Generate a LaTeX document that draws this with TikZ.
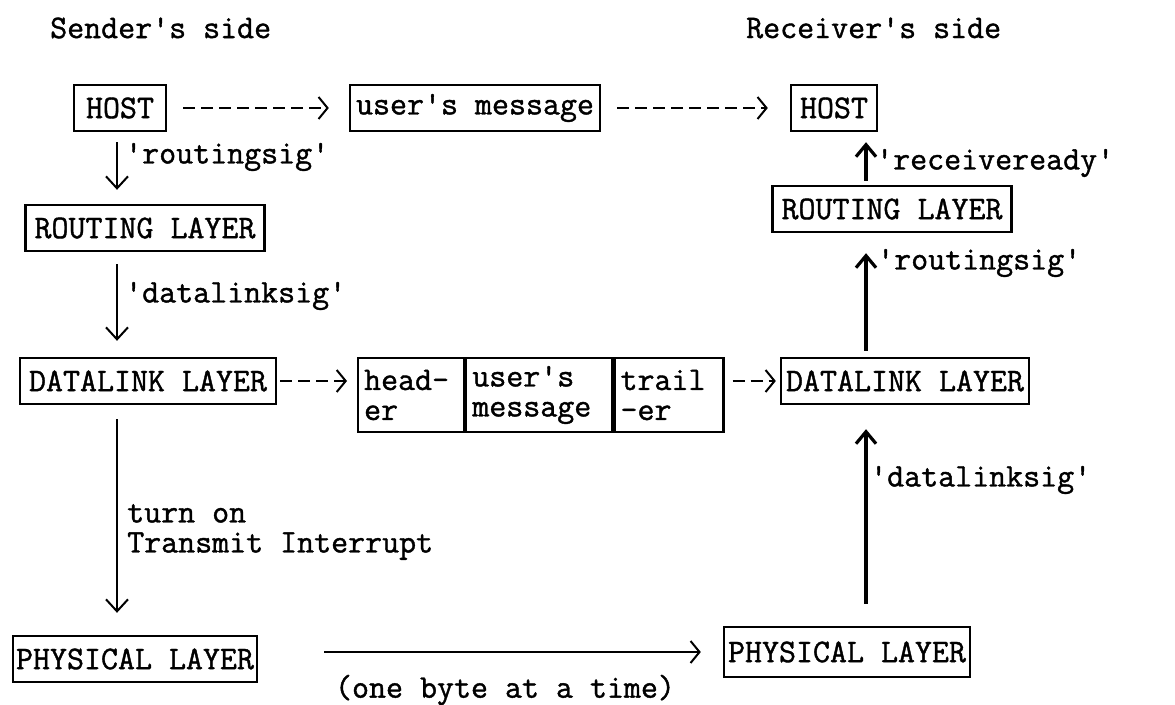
\documentclass[tikz,border=0pt]{standalone}
\usepackage{fontspec}
\newfontfamily\typer[FakeBold=1.2]{Latin Modern Mono}
\usetikzlibrary{arrows.meta}
\begin{document}
\begin{tikzpicture}[x=1pt,y=-1pt,
  every node/.style={font=\typer\fontsize{33}{30}\selectfont},
  layer/.style={draw, line width=2.4pt, inner xsep=9pt, inner ysep=0pt, minimum height=46pt},
  cell/.style={draw, line width=2.2pt, inner xsep=6pt, inner ysep=0pt, minimum height=74pt, align=left, anchor=west},
  lbl/.style={anchor=west, inner sep=0pt, align=left},
  typed/.style={line width=2pt, -{Straight Barb[length=9pt,width=22pt,line width=2pt]}},
  dashy/.style={typed, dash pattern=on 12pt off 6pt},
  sigdown/.style={line width=2pt, -{Straight Barb[length=12pt,width=22pt,line width=2pt]}},
  sigup/.style={line width=3.6pt, -{Straight Barb[length=12pt,width=20pt,line width=3.2pt]}}]

\useasboundingbox (0,0) rectangle (1175,704);

% column headings
\node[lbl] (sender) at (50,28) {Sender's side};
\node[lbl] (receiver) at (746,28) {Receiver's side};

% layer boxes
\node[layer, inner xsep=12pt] (hostL) at (120,108) {HOST};
\node[layer, inner xsep=6pt] (msg)   at (475,108) {user's message};
\node[layer] (hostR) at (834,108) {HOST};
\node[layer] (routL) at (145,228) {ROUTING LAYER};
\node[layer] (routR) at (892,209) {ROUTING LAYER};
\node[layer] (dlL)   at (148,381) {DATALINK LAYER};
\node[layer, inner xsep=5pt] (dlR)   at (905,381) {DATALINK LAYER};
\node[layer, inner xsep=3pt] (phL)   at (135,659) {PHYSICAL LAYER};
\node[layer, inner xsep=4pt, minimum height=50pt] (phR)   at (847,652) {PHYSICAL LAYER};

% frame sent on the link
\node[cell, text width=94pt]  (hdr)  at (357,395) {head-\\er};
\node[cell, text width=134pt] (body) at (hdr.east) {user's\\message};
\node[cell, text width=97pt]  (trl)  at (body.east) {trail\\-er};

% horizontal transfers
\draw[dashy, shorten <=16pt, shorten >=20pt] (hostL) -- (msg);
\draw[dashy, shorten <=16pt, shorten >=22pt] (msg) -- (hostR);
\draw[dashy, shorten <=3pt, shorten >=10pt] (dlL.east) -- (hdr.west |- dlL.east);
\draw[dashy, shorten <=8pt, shorten >=4pt] (trl.east |- dlR.west) -- (dlR.west);
\draw[typed, shorten <=66pt, shorten >=22pt] (phL.east |- phR.west) -- (phR.west);
\node (byte) at (505,690) {(one byte at a time)};

% signals on the sending side
\coordinate (xl) at (117,0);
\draw[sigdown, shorten <=10pt, shorten >=14pt] (hostL.south -| xl) -- (routL.north -| xl);
\draw[sigdown, shorten <=12pt, shorten >=16pt] (routL.south -| xl) -- (dlL.north -| xl);
\draw[sigdown, shorten <=14pt, shorten >=22pt] (dlL.south -| xl) -- (phL.north -| xl);
\node[lbl] (sigA) at (125,157) {'routingsig'};
\node[lbl] (sigB) at (125,296) {'datalinksig'};
\node[lbl] (sigC) at (127,532) {turn on\\Transmit Interrupt};

% signals on the receiving side
\coordinate (xr) at (866,0);
\draw[sigup, shorten <=4pt, shorten >=10pt] (routR.north -| xr) -- (hostR.south -| xr);
\draw[sigup, shorten <=6pt, shorten >=20pt] (dlR.north -| xr) -- (routR.south -| xr);
\draw[sigup, shorten <=22pt, shorten >=24pt] (phR.north -| xr) -- (dlR.south -| xr);
\node[lbl] (sigD) at (876,163) {'receiveready'};
\node[lbl] (sigE) at (877,263) {'routingsig'};
\node[lbl] (sigF) at (870,480) {'datalinksig'};
\end{tikzpicture}
\end{document}
